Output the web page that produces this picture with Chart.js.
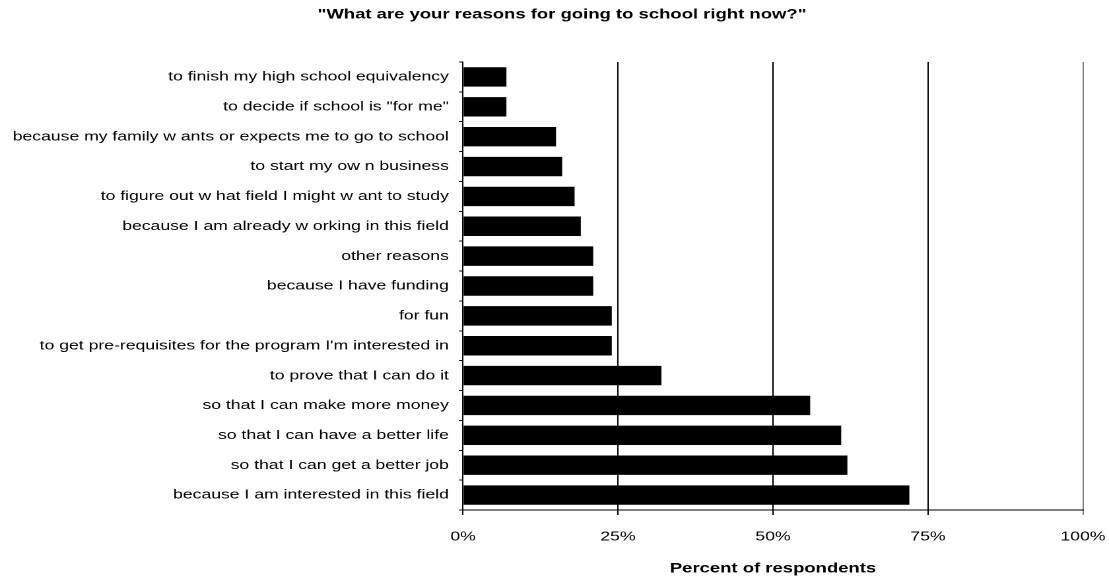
<!DOCTYPE html>
<html>
<head>
<meta charset="utf-8">
<script src="https://cdn.jsdelivr.net/npm/chart.js@4"></script>
<style>
  html, body { margin: 0; padding: 0; background: #fff; overflow: hidden; }
  #wrap { width: 840px; height: 581px; transform: scaleX(1.3202); transform-origin: 0 0; }
</style>
</head>
<body>
<div id="wrap"><canvas id="myChart" width="840" height="581"></canvas></div>
<script>
const reasons = [
  "to finish my high school equivalency",
  "to decide if school is \"for me\"",
  "because my family w ants or expects me to go to school",
  "to start my ow n business",
  "to figure out w hat field I might w ant to study",
  "because I am already w orking in this field",
  "other reasons",
  "because I have funding",
  "for fun",
  "to get pre-requisites for the program I'm interested in",
  "to prove that I can do it",
  "so that I can make more money",
  "so that I can have a better life",
  "so that I can get a better job",
  "because I am interested in this field",
];
const percents = [7, 7, 15, 16, 18, 19, 21, 21, 24, 24, 32, 56, 61, 62, 72];
const xTicks = [0, 25, 50, 75, 100];

const fontFamily = "'Liberation Sans', Arial, sans-serif";
Chart.defaults.font.family = fontFamily;
Chart.defaults.color = "#000";

const ctx = document.getElementById("myChart");
new Chart(ctx, {
  type: "bar",
  data: {
    labels: reasons,
    datasets: [
      {
        data: percents,
        backgroundColor: "#000",
        borderWidth: 0,
        barPercentage: 0.65,
        categoryPercentage: 1,
      },
    ],
  },
  options: {
    indexAxis: "y",
    responsive: false,
    devicePixelRatio: 2,
    animation: false,
    // negative right padding only moves the title's centre; the x scale keeps its own right gap
    layout: { padding: { left: 0, right: -11.4, top: 0, bottom: 0 } },
    plugins: {
      legend: { display: false },
      tooltip: { enabled: false },
      title: {
        display: true,
        text: "\"What are your reasons for going to school right now?\"",
        font: { size: 14, weight: "bold" },
        color: "#000",
        padding: { top: 6, bottom: 39.2 },
      },
    },
    scales: {
      x: {
        min: 0,
        max: 100,
        afterBuildTicks: (scale) => {
          scale.ticks = xTicks.map((v) => ({ value: v }));
        },
        afterFit: (scale) => {
          scale.height = 71;
          scale.paddingLeft = 0;
          scale.paddingRight = 19.7;
        },
        ticks: {
          padding: 14,
          font: { size: 13.33 },
          callback: (v) => v + "%",
        },
        grid: {
          // last line is the right edge of the plot, drawn lighter
          color: (c) => (c.tick && c.tick.value === 100 ? "#808080" : "#000"),
          lineWidth: 1,
          tickLength: 5,
        },
        border: { color: "#000", width: 1 },
        title: {
          display: true,
          text: "Percent of respondents",
          font: { size: 14, weight: "bold" },
          padding: { top: 0, bottom: 4 },
        },
      },
      y: {
        afterFit: (scale) => {
          scale.width = 350.7;
        },
        ticks: {
          padding: 7.7,
          autoSkip: false,
          font: { size: 13.33 },
        },
        grid: {
          drawOnChartArea: false,
          color: "#000",
          tickLength: 3,
        },
        border: { color: "#000", width: 1 },
      },
    },
  },
});
</script>
</body>
</html>
